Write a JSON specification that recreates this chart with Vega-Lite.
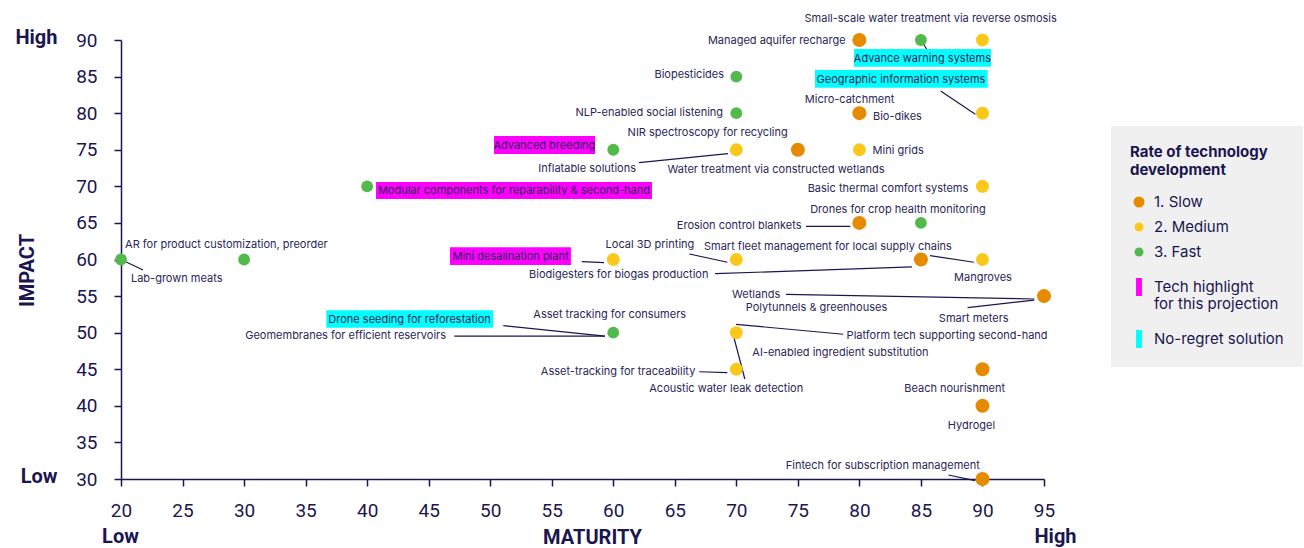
{
  "$schema": "https://vega.github.io/schema/vega-lite/v6.json",
  "width": 923,
  "height": 439,
  "autosize": {"type": "none"},
  "padding": {"left": 121, "top": 40, "right": 260, "bottom": 69},
  "background": "white",
  "config": {
    "font": "Roboto",
    "view": {"stroke": null},
    "text": {"font": "Inter", "fontSize": 11, "color": "#2a2757", "dy": 1},
    "axis": {"grid": false}
  },
  "datasets": {
    "points": [
      {"maturity": 20, "impact": 60, "rate": "3. Fast"},
      {"maturity": 30, "impact": 60, "rate": "3. Fast"},
      {"maturity": 40, "impact": 70, "rate": "3. Fast"},
      {"maturity": 60, "impact": 75, "rate": "3. Fast"},
      {"maturity": 70, "impact": 85, "rate": "3. Fast"},
      {"maturity": 70, "impact": 80, "rate": "3. Fast"},
      {"maturity": 70, "impact": 75, "rate": "2. Medium"},
      {"maturity": 75, "impact": 75, "rate": "1. Slow"},
      {"maturity": 80, "impact": 75, "rate": "2. Medium"},
      {"maturity": 80, "impact": 90, "rate": "1. Slow"},
      {"maturity": 85, "impact": 90, "rate": "3. Fast"},
      {"maturity": 90, "impact": 90, "rate": "2. Medium"},
      {"maturity": 80, "impact": 80, "rate": "1. Slow"},
      {"maturity": 90, "impact": 80, "rate": "2. Medium"},
      {"maturity": 90, "impact": 70, "rate": "2. Medium"},
      {"maturity": 80, "impact": 65, "rate": "1. Slow"},
      {"maturity": 85, "impact": 65, "rate": "3. Fast"},
      {"maturity": 60, "impact": 60, "rate": "2. Medium"},
      {"maturity": 70, "impact": 60, "rate": "2. Medium"},
      {"maturity": 85, "impact": 60, "rate": "1. Slow"},
      {"maturity": 90, "impact": 60, "rate": "2. Medium"},
      {"maturity": 95, "impact": 55, "rate": "1. Slow"},
      {"maturity": 60, "impact": 50, "rate": "3. Fast"},
      {"maturity": 70, "impact": 50, "rate": "2. Medium"},
      {"maturity": 70, "impact": 45, "rate": "2. Medium"},
      {"maturity": 90, "impact": 45, "rate": "1. Slow"},
      {"maturity": 90, "impact": 40, "rate": "1. Slow"},
      {"maturity": 90, "impact": 30, "rate": "1. Slow"}
    ],
    "highlights": [
      {"name": "Modular components for reparability & second-hand", "hl": "Tech highlight|for this projection", "bx1": 40.72, "bx2": 63.15, "by1": 70.59, "by2": 68.27},
      {"name": "Advanced breeding", "hl": "Tech highlight|for this projection", "bx1": 50.31, "bx2": 58.52, "by1": 76.88, "by2": 74.42},
      {"name": "Mini desalination plant", "hl": "Tech highlight|for this projection", "bx1": 46.73, "bx2": 56.56, "by1": 61.67, "by2": 59.25},
      {"name": "Advance warning systems", "hl": "No-regret solution", "bx1": 79.56, "bx2": 90.69, "by1": 88.77, "by2": 86.35},
      {"name": "Geographic information systems", "hl": "No-regret solution", "bx1": 76.39, "bx2": 90.42, "by1": 85.9, "by2": 83.48},
      {"name": "Drone seeding for reforestation", "hl": "No-regret solution", "bx1": 36.68, "bx2": 50.23, "by1": 53.06, "by2": 50.68}
    ],
    "leaders": [
      {"x": 20, "y": 60, "x2": 21.79, "y2": 58.56},
      {"x": 62.09, "y": 73.23, "x2": 69.32, "y2": 74.46},
      {"x": 85, "y": 90, "x2": 85.46, "y2": 88.77},
      {"x": 86.6, "y": 83.03, "x2": 89.42, "y2": 79.84},
      {"x": 75.66, "y": 64.53, "x2": 79.26, "y2": 64.53},
      {"x": 57.44, "y": 59.7, "x2": 59.25, "y2": 59.57},
      {"x": 66.18, "y": 60.75, "x2": 69.27, "y2": 59.62},
      {"x": 68.27, "y": 58.06, "x2": 84.27, "y2": 58.99},
      {"x": 85.73, "y": 60.52, "x2": 89.31, "y2": 59.62},
      {"x": 74.03, "y": 55.24, "x2": 94.21, "y2": 54.6},
      {"x": 88.79, "y": 53.41, "x2": 94.21, "y2": 54.46},
      {"x": 51.06, "y": 50.95, "x2": 59.32, "y2": 49.54},
      {"x": 47.08, "y": 49.54, "x2": 59.32, "y2": 49.54},
      {"x": 69.97, "y": 51.14, "x2": 78.69, "y2": 49.78},
      {"x": 69.75, "y": 49.68, "x2": 70.69, "y2": 43.67},
      {"x": 66.99, "y": 44.66, "x2": 69.27, "y2": 44.53},
      {"x": 87.23, "y": 30.55, "x2": 89.41, "y2": 29.77}
    ],
    "labelsStart": [
      {"name": "AR for product customization, preorder", "lx": 20.33, "ly": 62.12},
      {"name": "Lab-grown meats", "lx": 20.81, "ly": 57.47},
      {"name": "Mini grids", "lx": 81.07, "ly": 74.92},
      {"name": "Bio-dikes", "lx": 81.1, "ly": 79.57},
      {"name": "Smart fleet management for local supply chains", "lx": 67.37, "ly": 61.8},
      {"name": "Polytunnels & greenhouses", "lx": 70.76, "ly": 53.46},
      {"name": "Platform tech supporting second-hand", "lx": 78.96, "ly": 49.72},
      {"name": "AI-enabled ingredient substitution", "lx": 71.3, "ly": 47.36}
    ],
    "labelsEnd": [
      {"name": "Biopesticides", "lx": 69.0, "ly": 85.35},
      {"name": "NLP-enabled social listening", "lx": 68.92, "ly": 80.11},
      {"name": "Inflatable solutions", "lx": 61.85, "ly": 72.46},
      {"name": "Managed aquifer recharge", "lx": 78.88, "ly": 89.95},
      {"name": "Basic thermal comfort systems", "lx": 88.85, "ly": 69.73},
      {"name": "Erosion control blankets", "lx": 75.3, "ly": 64.67},
      {"name": "Biodigesters for biogas production", "lx": 67.73, "ly": 57.97},
      {"name": "Wetlands", "lx": 73.57, "ly": 55.24},
      {"name": "Asset-tracking for traceability", "lx": 66.67, "ly": 44.72},
      {"name": "Geomembranes for efficient reservoirs", "lx": 46.41, "ly": 49.64}
    ],
    "labelsMiddle": [
      {"name": "NIR spectroscopy for recycling", "lx": 67.67, "ly": 77.47},
      {"name": "Water treatment via constructed wetlands", "lx": 73.22, "ly": 72.33},
      {"name": "Micro-catchment", "lx": 79.2, "ly": 81.89},
      {"name": "Drones for crop health monitoring", "lx": 83.13, "ly": 66.86},
      {"name": "Mangroves", "lx": 90.04, "ly": 57.57},
      {"name": "Local 3D printing", "lx": 62.98, "ly": 62.08},
      {"name": "Smart meters", "lx": 89.29, "ly": 51.96},
      {"name": "Acoustic water leak detection", "lx": 69.18, "ly": 42.44},
      {"name": "Beach nourishment", "lx": 87.74, "ly": 42.44},
      {"name": "Hydrogel", "lx": 89.11, "ly": 37.38},
      {"name": "Fintech for subscription management", "lx": 81.9, "ly": 31.87},
      {"name": "Asset tracking for consumers", "lx": 59.71, "ly": 52.51},
      {"name": "Small-scale water treatment via reverse osmosis", "lx": 85.79, "ly": 93.0},
      {"name": "Advance warning systems", "lx": 85.12, "ly": 87.54},
      {"name": "Geographic information systems", "lx": 83.38, "ly": 84.67},
      {"name": "Mini desalination plant", "lx": 51.65, "ly": 60.48},
      {"name": "Drone seeding for reforestation", "lx": 43.45, "ly": 51.87},
      {"name": "Advanced breeding", "lx": 54.4, "ly": 75.65},
      {"name": "Modular components for reparability & second-hand", "lx": 51.93, "ly": 69.5}
    ]
  },
  "resolve": {"axis": {"x": "independent", "y": "independent"}},
  "layer": [
    {
      "data": {"name": "highlights"},
      "mark": {"type": "rect"},
      "encoding": {
        "x": {
          "field": "bx1", "type": "quantitative",
          "scale": {"domain": [20, 95], "nice": false, "zero": false},
          "axis": {
            "orient": "bottom", "values": [20, 95],
            "labelExpr": "datum.value == 20 ? 'Low' : 'High'",
            "labelFontWeight": "bold", "labelFontSize": 20, "labelColor": "#1b1650",
            "labelPadding": 40, "tickSize": 7, "tickOpacity": 0, "domain": false,
            "title": null, "labelFlush": false, "labelOverlap": false,
            "labelOffset": {"condition": {"test": "datum.value == 95", "value": 11}, "value": -1}
          }
        },
        "x2": {"field": "bx2"},
        "y": {
          "field": "by1", "type": "quantitative",
          "scale": {"domain": [30, 90], "nice": false, "zero": false},
          "axis": {
            "orient": "left", "values": [30, 90],
            "labelExpr": "datum.value == 90 ? 'High' : 'Low'",
            "labelFontWeight": "bold", "labelFontSize": 20, "labelColor": "#1b1650",
            "labelPadding": 57, "tickSize": 7, "tickOpacity": 0, "domain": false,
            "title": null, "labelFlush": false, "labelOverlap": false, "labelOffset": -3
          }
        },
        "y2": {"field": "by2"},
        "color": {"field": "hl", "type": "nominal"}
      }
    },
    {
      "data": {"name": "leaders"},
      "mark": {"type": "rule", "color": "#1b1650", "strokeWidth": 1.2},
      "encoding": {
        "x": {"field": "x", "type": "quantitative", "axis": null},
        "y": {"field": "y", "type": "quantitative", "axis": null},
        "x2": {"field": "x2"},
        "y2": {"field": "y2"}
      }
    },
    {
      "data": {"name": "points"},
      "mark": {"type": "circle", "opacity": 1},
      "encoding": {
        "x": {
          "field": "maturity", "type": "quantitative",
          "axis": {
            "orient": "bottom",
            "values": [20, 25, 30, 35, 40, 45, 50, 55, 60, 65, 70, 75, 80, 85, 90, 95],
            "title": "MATURITY", "titleFontSize": 20, "titleFontWeight": "bold", "titleColor": "#1b1650",
            "titleX": 471, "titleY": 58, "titleBaseline": "middle", "titleAlign": "center",
            "labelFontSize": 19, "labelColor": "#1b1650", "labelPadding": 15,
            "tickSize": 7, "tickColor": "#1b1650", "tickWidth": 1.5,
            "domainColor": "#1b1650", "domainWidth": 1.5,
            "labelFlush": false, "labelOverlap": false
          }
        },
        "y": {
          "field": "impact", "type": "quantitative",
          "axis": {
            "orient": "left",
            "values": [30, 35, 40, 45, 50, 55, 60, 65, 70, 75, 80, 85, 90],
            "title": "IMPACT", "titleFontSize": 20, "titleFontWeight": "bold", "titleColor": "#1b1650",
            "titleX": -94, "titleY": 230, "titleAngle": 270, "titleBaseline": "middle", "titleAlign": "center",
            "labelFontSize": 19, "labelColor": "#1b1650", "labelPadding": 17,
            "tickSize": 7, "tickColor": "#1b1650", "tickWidth": 1.5,
            "domainColor": "#1b1650", "domainWidth": 1.5,
            "labelFlush": false, "labelOverlap": false
          }
        },
        "color": {
          "field": "rate", "type": "nominal",
          "scale": {
            "domain": ["1. Slow", "2. Medium", "3. Fast", "Tech highlight|for this projection", "No-regret solution"],
            "range": ["#E68A00", "#F9C81B", "#52BA4C", "#FF00FF", "#00FFFF"]
          },
          "legend": {
            "orient": "none", "legendX": 990, "legendY": 86,
            "title": ["Rate of technology", "development"],
            "titleFont": "Inter", "titleFontSize": 15, "titleFontWeight": "bold", "titleColor": "#1b1650", "titleLineHeight": 18,
            "titlePadding": 15,
            "labelFont": "Inter", "labelFontSize": 15, "labelColor": "#1b1650", "labelOffset": 6, "labelLimit": 300,
            "labelExpr": "split(datum.label, '|')",
            "symbolSize": 121, "symbolOpacity": 1, "symbolStrokeWidth": 0,
            "rowPadding": 8, "padding": 19, "fillColor": "#f0f0f0", "strokeColor": null,
            "encode": {
              "symbols": {
                "update": {
                  "shape": {"signal": "datum.value == 'Tech highlight|for this projection' ? 'M0,-2.11M-0.33,-1H0.33V1H-0.33Z' : (datum.value == 'No-regret solution' ? 'M0,-2.06M-0.33,-1H0.33V1H-0.33Z' : 'circle')"},
                  "size": {"signal": "datum.value == '1. Slow' ? 121 : (datum.value == '2. Medium' || datum.value == '3. Fast' ? 80 : 324)"}
                }
              }
            }
          }
        },
        "size": {
          "field": "rate", "type": "ordinal",
          "scale": {"domain": ["1. Slow", "2. Medium", "3. Fast"], "range": [196, 140, 150]},
          "legend": null
        }
      }
    },
    {
      "data": {"name": "labelsStart"},
      "mark": {"type": "text", "align": "left", "baseline": "middle"},
      "encoding": {
        "x": {"field": "lx", "type": "quantitative", "axis": null},
        "y": {"field": "ly", "type": "quantitative", "axis": null},
        "text": {"field": "name"}
      }
    },
    {
      "data": {"name": "labelsEnd"},
      "mark": {"type": "text", "align": "right", "baseline": "middle"},
      "encoding": {
        "x": {"field": "lx", "type": "quantitative", "axis": null},
        "y": {"field": "ly", "type": "quantitative", "axis": null},
        "text": {"field": "name"}
      }
    },
    {
      "data": {"name": "labelsMiddle"},
      "mark": {"type": "text", "align": "center", "baseline": "middle"},
      "encoding": {
        "x": {"field": "lx", "type": "quantitative", "axis": null},
        "y": {"field": "ly", "type": "quantitative", "axis": null},
        "text": {"field": "name"}
      }
    }
  ]
}
